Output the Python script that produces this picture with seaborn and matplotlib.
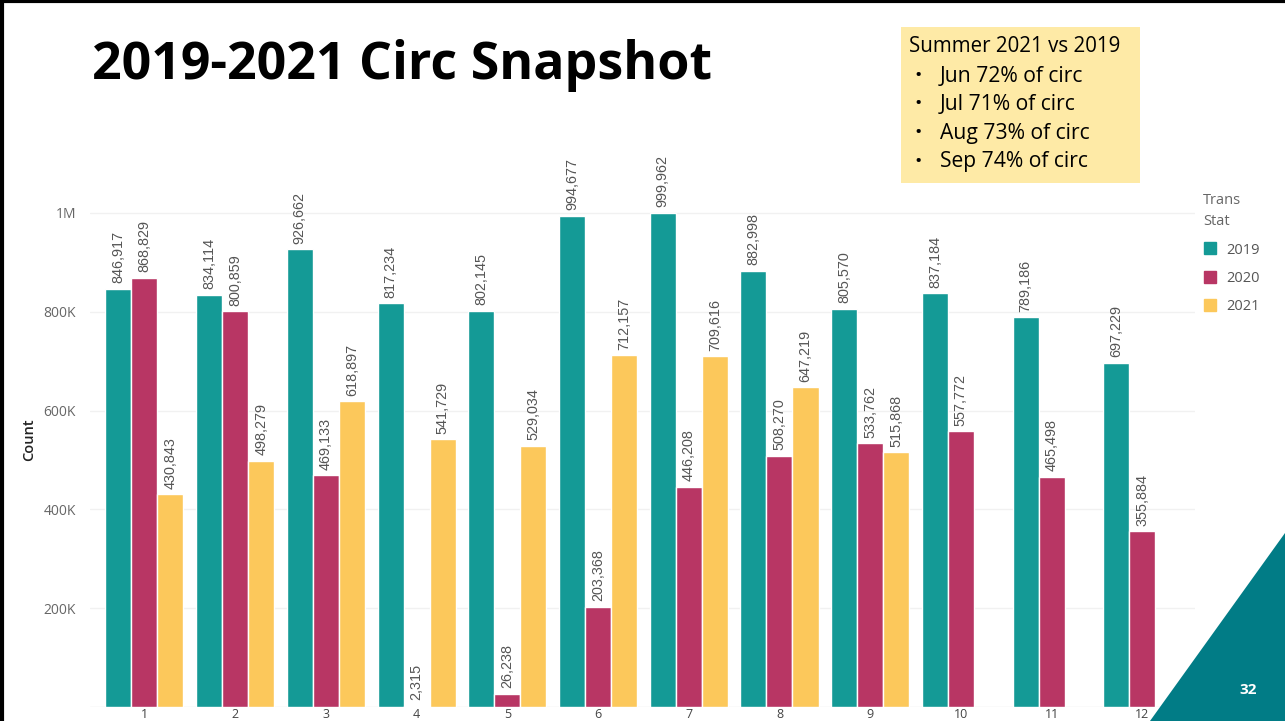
import numpy as np
import pandas as pd
import matplotlib
matplotlib.use("Agg")
import matplotlib.pyplot as plt
from matplotlib.patches import Polygon, Rectangle
from matplotlib.lines import Line2D
import seaborn as sns

months = [str(m) for m in range(1, 13)]
years = ["2019", "2020", "2021"]
circ_2019 = [846917, 834114, 926662, 817234, 802145, 994677,
             999962, 882998, 805570, 837184, 789186, 697229]
circ_2020 = [868829, 800859, 469133, 2315, 26238, 203368,
             446208, 508270, 533762, 557772, 465498, 355884]
circ_2021 = [430843, 498279, 618897, 541729, 529034, 712157,
             709616, 647219, 515868, np.nan, np.nan, np.nan]
y_ticks = [200000, 400000, 600000, 800000, 1000000]
y_tick_labels = ["200K", "400K", "600K", "800K", "1M"]
note_lines = ["Summer 2021 vs 2019", "Jun 72% of circ", "Jul 71% of circ",
              "Aug 73% of circ", "Sep 74% of circ"]

colors = {"2019": "#149a96", "2020": "#b83664", "2021": "#fcc85b"}

df = pd.DataFrame({
    "Month": months * 3,
    "Year": np.repeat(years, 12),
    "Count": circ_2019 + circ_2020 + circ_2021,
}).dropna()

sns.set_style("white")
plt.rcParams["font.family"] = ["Open Sans", "DejaVu Sans"]

fig = plt.figure(figsize=(12.85, 7.21), dpi=100)
ax = fig.add_axes([90 / 1285, 14 / 721, 1105 / 1285, 557 / 721])

sns.barplot(data=df, x="Month", y="Count", hue="Year", order=months,
            hue_order=years, palette=colors, width=0.86, edgecolor="white",
            linewidth=1.0, ax=ax, legend=False, saturation=1)

# value labels above each bar
for cont in ax.containers:
    ax.bar_label(cont, labels=[f"{v:,.0f}" for v in cont.datavalues],
                 rotation=90, padding=4, fontsize=10.4, color="#555555",
                 family="Liberation Sans")

ax.set_ylim(0, 1.1275e6)
ax.set_xlim(-0.6, 11.58)
ax.set_yticks(y_ticks)
ax.set_yticklabels(y_tick_labels, color="#666666", fontsize=10)
ax.tick_params(axis="x", labelsize=9, colors="#444444", pad=1, length=0)
ax.tick_params(axis="y", length=0, pad=10)
ax.yaxis.grid(True, color="#f1f1f1", linewidth=1)
ax.set_axisbelow(True)
ax.set_xlabel("")
ax.set_ylabel("Count", fontsize=10.5, color="#222222", fontweight="semibold")
ax.yaxis.set_label_coords(-0.049, 0.48)
for s in ax.spines.values():
    s.set_visible(False)
ax.axhline(0, color="#e8e8e8", linewidth=1, zorder=0)

# legend
handles = [Line2D([], [], marker="s", linestyle="", markersize=9,
                  markerfacecolor=colors[y], markeredgecolor=colors[y]) for y in years]
leg = fig.legend(handles, years, title="Trans\nStat", loc="upper left",
                 bbox_to_anchor=(1197 / 1285, 1 - 187 / 721), frameon=False,
                 fontsize=10.5, title_fontsize=10.5, labelspacing=0.9,
                 handletextpad=0.6, handlelength=1.0, borderaxespad=0)
leg._legend_box.align = "left"
for t in leg.get_texts():
    t.set_color("#555555")
leg.get_title().set_color("#666666")
leg.get_title().set_linespacing(1.6)

# title
fig.text(92 / 1285, 1 - 66 / 721, "2019-2021 Circ Snapshot", fontsize=37.4,
         fontweight="bold", va="center", ha="left", color="black")

# note box
fig.patches.append(Rectangle((901 / 1285, 1 - 183 / 721), 239 / 1285, 156 / 721,
                             transform=fig.transFigure, facecolor="#feeaa6",
                             edgecolor="none", zorder=5))
fig.text(909 / 1285, 1 - 47 / 721, note_lines[0], fontsize=14.8, va="center",
         ha="left", zorder=6, color="black")
for i, line in enumerate(note_lines[1:]):
    y = 1 - (76 + i * 28.5) / 721
    fig.text(914 / 1285, y, "\u2022", fontsize=14, va="center", ha="left",
             zorder=6, color="black")
    fig.text(940 / 1285, y, line, fontsize=15.2, va="center", ha="left",
             zorder=6, color="black")

# slide decoration
fig.patches.append(Polygon([(1285 / 1285, 1 - 533 / 721), (1285 / 1285, 0),
                            (1150 / 1285, 0)], closed=True,
                           transform=fig.transFigure, facecolor="#017c86",
                           edgecolor="none", zorder=7))
fig.text(1248 / 1285, 1 - 690 / 721, "32", fontsize=11, fontweight="bold",
         color="white", ha="center", va="center", zorder=8)
fig.lines.append(Line2D([0.0015, 0.0015], [0, 1], transform=fig.transFigure,
                        color="black", linewidth=3, zorder=9))
fig.lines.append(Line2D([0, 1], [0.998, 0.998], transform=fig.transFigure,
                        color="black", linewidth=3, zorder=9))

fig.savefig("out.png", dpi=100)
